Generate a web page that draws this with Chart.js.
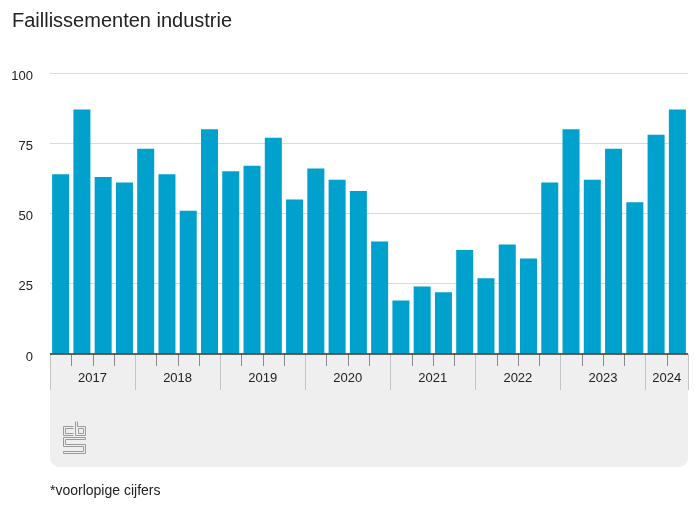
<!DOCTYPE html>
<html>
<head>
<meta charset="utf-8">
<script src="https://cdn.jsdelivr.net/npm/chart.js@4.4.1/dist/chart.umd.min.js"></script>
<style>
    html, body { margin: 0; padding: 0; background: #fff; }
    #wrap { position: relative; width: 700px; height: 525px; font-family: "Liberation Sans", Arial, sans-serif; color: #222; }
    #title { position: absolute; left: 12px; top: 9px; font-size: 20px; }
    #note { position: absolute; left: 50px; top: 482px; font-size: 14px; }
    canvas { position: absolute; left: 0; top: 0; }
</style>
</head>
<body>
<div id="wrap">
    <canvas id="chart" width="700" height="525"></canvas>
    <div id="title">Faillissementen industrie</div>
    <div id="note">*voorlopige cijfers</div>
</div>
<script>
// Faillissementen industrie, per kwartaal (2024 voorlopig)
const years = ['2017', '2018', '2019', '2020', '2021', '2022', '2023', '2024'];
const quarters = [
    '2017 K1', '2017 K2', '2017 K3', '2017 K4',
    '2018 K1', '2018 K2', '2018 K3', '2018 K4',
    '2019 K1', '2019 K2', '2019 K3', '2019 K4',
    '2020 K1', '2020 K2', '2020 K3', '2020 K4',
    '2021 K1', '2021 K2', '2021 K3', '2021 K4',
    '2022 K1', '2022 K2', '2022 K3', '2022 K4',
    '2023 K1', '2023 K2', '2023 K3', '2023 K4',
    '2024 K1', '2024 K2'
];
const faillissementen = [
    64, 87, 63, 61,
    73, 64, 51, 80,
    65, 67, 77, 55,
    66, 62, 58, 40,
    19, 24, 22, 37,
    27, 39, 34, 61,
    80, 62, 73, 54,
    78, 87
];
const yTicks = [0, 25, 50, 75, 100];

const FONT = '"Liberation Sans", Arial, sans-serif';

// grey band under the plot with quarter ticks, year dividers, year labels and logo
const yearAxis = {
    id: 'yearAxis',
    beforeDraw(chart) {
        const { ctx, chartArea, scales } = chart;
        const x = scales.x;
        const step = x.getPixelForValue(1) - x.getPixelForValue(0);
        const top = chartArea.bottom;
        const bottom = 467;
        const left = chartArea.left;
        const right = chartArea.right;

        ctx.save();
        ctx.fillStyle = '#efefef';
        ctx.beginPath();
        ctx.roundRect(left, top, right - left, bottom - top, [0, 0, 9, 9]);
        ctx.fill();

        // quarter ticks
        ctx.strokeStyle = '#8a8a8a';
        ctx.lineWidth = 1;
        for (let i = 1; i < quarters.length; i++) {
            const px = Math.round(x.getPixelForValue(i) - step / 2) + 0.5;
            ctx.beginPath();
            ctx.moveTo(px, top);
            ctx.lineTo(px, top + 12);
            ctx.stroke();
        }

        // year dividers and labels
        ctx.font = '13px ' + FONT;
        ctx.fillStyle = '#222';
        ctx.textAlign = 'center';
        ctx.textBaseline = 'middle';
        years.forEach(year => {
            const idx = quarters.map((q, i) => q.startsWith(year) ? i : -1).filter(i => i >= 0);
            const x0 = x.getPixelForValue(idx[0]) - step / 2;
            const x1 = x.getPixelForValue(idx[idx.length - 1]) + step / 2;
            ctx.strokeStyle = '#c4c4c4';
            [x0, x1].forEach(px => {
                const p = Math.round(px) + 0.5;
                ctx.beginPath();
                ctx.moveTo(p, top);
                ctx.lineTo(p, top + 36);
                ctx.stroke();
            });
            ctx.fillText(year, (x0 + x1) / 2, top + 24);
        });

        // cbs logo
        ctx.strokeStyle = '#9a9a9a';
        ctx.lineWidth = 1;
        const lx = 63, ly = 421;
        const line = pts => {
            ctx.beginPath();
            ctx.moveTo(lx + pts[0][0] + 0.5, ly + pts[0][1] + 0.5);
            for (let k = 1; k < pts.length; k++) ctx.lineTo(lx + pts[k][0] + 0.5, ly + pts[k][1] + 0.5);
            ctx.stroke();
        };
        // c
        line([[10, 5], [0, 5], [0, 14], [10, 14]]);
        line([[10, 7], [2, 7], [2, 12], [10, 12]]);
        // b
        line([[12, 0], [12, 14], [22, 14], [22, 5], [14, 5], [14, 0]]);
        line([[15, 7], [20, 7], [20, 12], [15, 12], [15, 7]]);
        // s
        line([[22, 16], [0, 16], [0, 25], [20, 25], [20, 30], [0, 30], [0, 32], [22, 32], [22, 23], [2, 23], [2, 18], [22, 18], [22, 16]]);
        ctx.restore();
    },
    afterDatasetsDraw(chart) {
        const { ctx, chartArea } = chart;
        ctx.save();
        ctx.strokeStyle = '#333';
        ctx.lineWidth = 1.5;
        ctx.beginPath();
        ctx.moveTo(chartArea.left, chartArea.bottom);
        ctx.lineTo(chartArea.right, chartArea.bottom);
        ctx.stroke();
        ctx.restore();
    }
};

new Chart(document.getElementById('chart'), {
    type: 'bar',
    data: {
        labels: quarters,
        datasets: [{
            label: 'Faillissementen',
            data: faillissementen,
            backgroundColor: '#00a1cd',
            borderWidth: 0,
            barPercentage: 0.8,
            categoryPercentage: 1.0
        }]
    },
    options: {
        responsive: false,
        animation: false,
        layout: { padding: { top: 73, right: 12, bottom: 171, left: 0 } },
        plugins: {
            legend: { display: false },
            tooltip: { enabled: false }
        },
        scales: {
            x: { display: false },
            y: {
                min: 0,
                max: 100,
                afterBuildTicks(scale) { scale.ticks = yTicks.map(v => ({ value: v })); },
                afterFit(scale) { scale.width = 50; },
                border: { display: false },
                grid: {
                    drawTicks: false,
                    color: c => c.tick.value === 0 ? 'rgba(0,0,0,0)' : '#dadada'
                },
                ticks: {
                    padding: 17,
                    labelOffset: 3,
                    color: '#222',
                    font: { family: FONT, size: 13 }
                }
            }
        }
    },
    plugins: [yearAxis]
});
</script>
</body>
</html>
